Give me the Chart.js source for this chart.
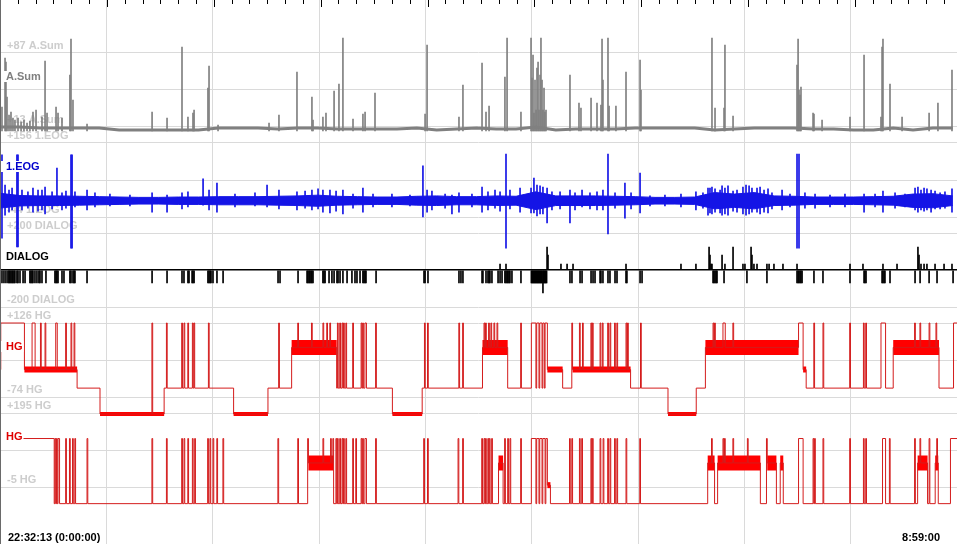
<!DOCTYPE html>
<html>
<head>
<meta charset="utf-8">
<title>PSG overview</title>
<script src="https://cdn.jsdelivr.net/npm/chart.js@4.4.0/dist/chart.umd.min.js"></script>
<style>
  html, body { margin: 0; padding: 0; background: #fff; }
  #psg { display: block; }
</style>
</head>
<body>
<canvas id="psg" width="957" height="544"></canvas>
<script>
// ---- data (time in minutes from 22:32:13) ----
const totalMin = 626.78;
const epochMin = 0.5;
const majorStepMin = 70;
const timeLabels = ['22:32:13 (0:00:00)', '8:59:00'];

// hypnogram stages: 0 W, 1 REM, 2 N1, 3 N2, 4 N3
const hgLevels = [126, 60, 0, -50, -120];

const asumGrid = [13, 50, 87];
const eogGrid = [-44, 56, 156];
const dialogGrid = [-200, 0, 200];
const hg1Grid = [-74, 26, 126];
const hg2Grid = [-5, 95, 195];

const sampleT = [0, 13, 26, 39, 52, 65, 78, 91, 104, 117, 130, 143, 156, 169, 182, 195, 208, 221, 234, 247,
  260, 273, 286, 299, 312, 325, 338, 351, 364, 377, 390, 403, 416, 429, 442, 455, 468, 481, 494, 507,
  520, 533, 546, 559, 572, 585, 598, 611, 624];
const asumBase = [13, 13, 12, 12, 12, 12, 10, 10, 10, 10, 10, 12, 12, 12, 11, 12, 12, 11, 11, 11,
  11, 12, 10, 11, 12, 11, 11, 13, 10, 11, 11, 11, 12, 12, 12, 12, 10, 11, 12, 12,
  12, 11, 11, 10, 10, 12, 10, 12, 12];
const eogEnv = [20, 14, 13, 13, 12, 11, 10, 9, 9, 10, 10, 11, 11, 11, 12, 13, 15, 12, 11, 10,
  10, 12, 13, 11, 11, 13, 12, 24, 13, 13, 13, 12, 11, 9, 9, 10, 22, 18, 22, 13,
  12, 10, 10, 10, 11, 12, 18, 19, 13];

// [time, peak]
const asumSpikes = [[1.3,33],[3.3,82],[3.9,78],[4.6,43],[5.9,25],[7.2,28],[8.5,22],[9.8,20],[11.8,22],[13.8,18],
  [15.7,20],[17.7,17],[19.6,19],[21.6,28],[23.6,30],[27.5,23],[29.5,79],[30.8,27],[36.7,33],[38.0,27],
  [40.6,22],[45.8,65],[46.5,101],[47.8,40],[57.0,16],[99.6,28],[109.4,22],[119.2,93],[123.1,23],[126.4,27],
  [127.1,30],[136.2,52],[136.9,74],[142.8,15],[176.2,17],[182.7,25],[194.5,68],[204.3,43],[205.0,20],[211.5,23],
  [213.5,27],[218.8,49],[222.0,56],[224.6,102],[231.2,21],[237.7,26],[239.1,28],[245.6,47],[278.4,26],[279.7,95],
  [300.6,23],[303.2,55],[315.7,77],[318.3,28],[320.3,34],[330.7,63],[332.1,102],[341.2,28],[347.8,102],[348.4,62],
  [349.1,85],[349.7,27],[350.4,60],[351.1,30],[351.7,72],[352.4,78],[353.0,30],[353.7,65],[354.3,102],[355.0,60],
  [355.6,30],[356.3,52],[356.9,28],[357.6,30],[373.3,65],[379.2,37],[380.5,32],[387.1,42],[391.0,37],[393.6,35],
  [394.3,101],[394.9,60],[398.2,102],[398.9,34],[403.4,34],[410.0,68],[419.2,80],[419.8,50],[466.3,102],[468.3,32],
  [474.2,32],[474.8,95],[480.1,24],[522.0,75],[522.7,101],[523.3,50],[524.0,45],[524.6,53],[532.5,27],[533.1,26],
  [538.4,20],[556.7,23],[565.9,85],[577.0,23],[577.7,93],[578.3,101],[582.9,56],[590.8,23],[608.5,27],[614.3,37],
  [623.5,70]];

// [time, high, low]
const eogSpikes = [[1.3,124,-101],[3.3,42,-39],[5.9,29,-31],[7.9,34,-25],[11.1,124,-125],[11.8,124,-125],[14.4,29,-25],
  [18.3,24,-20],[21.6,34,-31],[24.9,29,-28],[27.5,29,-25],[29.5,37,-36],[34.1,24,-22],[37.3,88,-12],[40.6,21,-25],
  [43.2,26,-20],[46.5,124,-128],[47.2,124,-128],[49.1,24,-17],[57.0,29,-25],[62.2,21,-17],[72.0,18,-14],[85.1,15,-14],
  [99.6,21,-31],[109.4,15,-31],[119.2,21,-22],[123.1,24,-17],[133.0,59,-12],[136.9,29,-25],[142.1,48,-31],[153.9,18,-17],
  [167.0,21,-14],[174.9,42,-17],[182.7,29,-22],[194.5,24,-25],[199.8,26,-20],[204.3,29,-25],[208.3,32,-22],[211.5,29,-31],
  [216.1,29,-33],[220.1,26,-28],[224.6,29,-36],[231.2,18,-20],[237.7,34,-31],[244.3,18,-17],[256.7,18,-17],[268.5,15,-14],
  [277.0,94,-44],[279.7,29,-31],[282.9,26,-25],[291.5,18,-20],[296.0,15,-36],[300.6,21,-31],[309.1,18,-17],[315.7,37,-31],
  [319.6,24,-25],[324.2,29,-20],[327.5,24,-28],[331.4,126,-128],[334.0,29,-22],[340.6,34,-31],[347.8,34,-33],[349.7,61,-33],
  [351.7,42,-41],[353.7,40,-36],[355.6,37,-36],[358.3,34,-60],[361.5,24,-25],[366.8,24,-22],[373.3,29,-60],[376.6,21,-25],
  [381.2,29,-17],[386.4,21,-22],[391.0,24,-25],[394.9,29,-25],[398.2,126,-90],[402.8,21,-20],[409.3,48,-47],[413.3,21,-22],
  [419.2,75,-33],[425.7,13,-14],[435.5,15,-14],[446.0,18,-17],[455.8,24,-25],[460.4,21,-20],[463.7,34,-39],[465.0,34,-33],
  [466.3,37,-36],[468.3,32,-31],[471.6,29,-33],[472.9,40,-39],[474.8,34,-36],[476.8,40,-39],[480.1,26,-28],[482.7,29,-31],
  [486.6,37,-36],[488.6,42,-39],[490.6,40,-36],[492.5,34,-31],[495.8,34,-31],[497.8,37,-36],[500.4,29,-31],[503.0,32,-33],
  [505.6,21,-22],[512.2,29,-25],[517.4,18,-17],[522.0,126,-128],[523.3,126,-128],[527.2,21,-20],[533.8,18,-20],[543.6,15,-17],
  [553.4,18,-17],[565.9,18,-31],[573.1,18,-17],[578.3,26,-31],[586.2,21,-20],[592.7,18,-17],[599.3,34,-25],[601.2,37,-31],
  [603.2,29,-25],[605.2,34,-28],[607.1,32,-25],[609.8,29,-31],[612.4,26,-22],[615.7,21,-22],[618.9,24,-20],[623.5,32,-31]];

const dialogDownDepth = -70;
const dialogDownT = [1.3,2.6,3.9,5.2,5.9,6.5,7.2,7.9,8.5,9.2,9.8,11.1,11.8,13.1,15.1,16.4,19.6,20.3,21.0,21.6,22.9,24.2,
  25.5,26.2,27.5,30.1,36.0,36.7,37.3,38.0,40.6,41.9,45.8,46.5,47.8,48.5,49.1,57.0,99.6,109.4,119.2,120.5,123.1,123.8,
  125.8,126.4,127.1,136.2,136.9,137.6,138.2,139.5,142.1,146.1,182.1,183.4,195.2,201.1,201.7,202.4,203.0,203.7,204.3,205.0,
  211.5,212.2,212.9,215.5,217.4,218.8,220.7,221.4,222.7,224.6,227.3,230.5,232.5,233.8,235.8,237.7,238.4,239.1,239.7,246.3,
  277.7,278.4,280.3,300.6,301.9,303.2,315.7,316.3,318.3,319.6,320.3,320.9,322.2,326.2,327.5,328.8,330.7,331.4,332.1,332.7,
  333.4,334.0,335.3,341.2,348,348.5,349,349.5,350,350.5,351,351.5,352,352.5,353,353.5,354,354.5,355,356,356.5,357,357.5,358,
  373.3,374.6,379.9,381.2,387.1,388.4,389.7,393.0,393.6,394.9,398.2,399.5,402.8,404.1,410.0,410.6,419.2,420.5,467.0,467.6,
  468.3,469.0,469.6,474.2,489.2,502.3,522.0,522.7,523.3,524.0,524.6,525.3,533.1,539.0,556.7,565.9,566.5,567.2,577.7,578.3,
  579.0,579.6,582.9,599.3,602.6,608.5,613.7,624.2];
// [time, value]
const dialogPeaks = [[327.5,32],[331.4,32],[355.6,-124],[358.3,124],[358.9,81],[367.4,32],[371.4,32],[375.3,32],[410.0,32],
  [446.0,32],[455.8,32],[464.4,124],[465.0,81],[465.7,32],[466.3,32],[472.9,81],[474.8,32],[480.1,124],[486.6,32],[487.9,32],
  [491.9,124],[492.5,81],[493.8,32],[495.8,32],[502.3,32],[503.7,32],[506.9,32],[512.8,32],[522.0,32],[556.7,32],[565.2,32],
  [578.3,32],[587.5,32],[601.2,124],[601.9,81],[603.2,32],[605.2,32],[607.1,32],[612.4,32],[618.3,32],[623.5,32]];

const hg1RunT = [0,0.5,15.7,50.4,65.5,107.4,152.6,175.5,190.6,220.1,256.7,276.4,315.7,332.1,347.8,358.3,368.1,374.6,
  412.6,437.5,455.8,461.7,522.7,525.9,527.9,577.0,579.6,584.9,615.0,624.2];
const hg1RunS = [2,0,2,3,4,3,4,3,1,3,4,3,1,3,0,2,3,2,3,4,3,1,0,2,3,0,3,1,3,0];
const hg1Flips = [21.0,21.6,22.3,22.9,26.9,29.5,36.7,37.3,43.2,46.5,48.5,99.6,109.4,119.2,120.5,123.1,126.4,127.1,136.9,
  182.7,195.2,204.3,211.5,214.2,216.1,221.4,222.7,224.0,225.3,226.6,231.2,236.5,237.7,239.1,239.7,246.3,278.4,280.3,
  300.6,303.2,317.0,318.3,320.3,321.6,323.6,325.5,341.2,351.1,353.0,355.0,356.9,374.6,379.9,381.9,387.1,388.4,393.0,
  394.9,398.2,399.5,402.8,404.1,410.0,411.3,419.8,467.0,468.3,473.6,474.2,474.9,480.1,533.2,539.0,556.7,565.9,567.2,
  599.3,602.6,608.5,613.1];

const hg2RunT = [0,35.4,201.7,218.1,326.2,329.5,347.8,358.3,360.3,463.1,467.7,469.6,497.8,502.4,508.3,510.9,512.9,
  522.7,526.0,577.7,579.7,600.6,607.2,612.4,614.4,622.2];
const hg2RunS = [0,3,1,3,1,3,0,2,3,1,3,1,3,1,3,1,3,0,3,0,3,1,3,1,3,0];
const hg2Flips = [36.0,37.3,38.0,38.6,43.2,45.9,47.8,49.1,57.0,99.6,109.4,119.2,120.5,123.1,126.4,127.7,136.2,137.6,
  139.5,142.1,146.1,182.1,195.2,201.7,211.5,216.8,218.1,220.1,221.4,222.7,224.0,225.3,226.6,231.2,233.2,236.5,237.8,
  239.1,239.7,246.3,277.7,280.3,300.0,303.3,315.7,317.0,318.3,319.6,320.9,322.3,330.8,332.7,334.0,341.3,351.1,353.0,
  355.0,357.0,373.4,374.7,379.9,381.2,387.1,388.4,393.0,395.0,398.2,399.6,402.8,404.1,410.0,419.2,466.4,473.6,474.9,
  480.1,489.9,502.4,532.5,533.8,539.1,556.8,565.9,567.2,582.9,599.3,602.6,608.5,613.7];

// ---- layout / style ----
const H = 544;
const gridColor = '#dadada';
const grayCol = '#808080';
const blueCol = '#1414e6';
const hgLine = '#d41c1c';
const hgBar = '#ff0000';
const font = 'bold 11px "Liberation Sans", Arial, sans-serif';

const tracks = [
  { axis: 'yA', name: 'A.Sum', unit: 'A.Sum', color: grayCol, grid: asumGrid, px: [53, 127] },
  { axis: 'yE', name: '1.EOG', unit: '1.EOG', color: '#0000cc', grid: eogGrid, px: [143, 217] },
  { axis: 'yD', name: 'DIALOG', unit: 'DIALOG', color: '#000', grid: dialogGrid, px: [233, 307] },
  { axis: 'yH1', name: 'HG', unit: 'HG', color: '#e00000', grid: hg1Grid, px: [323, 397] },
  { axis: 'yH2', name: 'HG', unit: 'HG', color: '#e00000', grid: hg2Grid, px: [413, 487] }
];

function trackAxis(tr) {
  const hi = tr.grid[tr.grid.length - 1], lo = tr.grid[0];
  const perPx = (hi - lo) / (tr.px[1] - tr.px[0]);
  return {
    type: 'linear',
    position: 'left',
    min: lo - (H - tr.px[1]) * perPx,
    max: hi + tr.px[0] * perPx,
    beginAtZero: false,
    afterBuildTicks: ax => { ax.ticks = tr.grid.map(v => ({ value: v })); },
    ticks: { display: false },
    grid: {
      drawTicks: false,
      color: c => (tr.axis === 'yD' && c.tick && c.tick.value === 0) ? '#000' : gridColor,
      lineWidth: c => (tr.axis === 'yD' && c.tick && c.tick.value === 0) ? 1.6 : 1
    },
    border: { display: false }
  };
}

// epoch stage arrays from runs
function baseStages(runT, runS) {
  const n = Math.ceil(totalMin / epochMin);
  const st = [];
  let k = 0;
  for (let i = 0; i < n; i++) {
    const t = i * epochMin;
    while (k + 1 < runT.length && runT[k + 1] <= t + 1e-6) k++;
    st.push(runS[k]);
  }
  return st;
}
function withFlips(base, flips) {
  const st = base.slice();
  flips.forEach(t => {
    const i = Math.min(st.length - 1, Math.floor(t / epochMin));
    st[i] = base[i] === 0 ? 3 : 0;
  });
  return st;
}
function stepPoints(st) {
  const pts = [];
  st.forEach((s, i) => {
    if (i === 0 || s !== st[i - 1]) pts.push({ x: i * epochMin, y: hgLevels[s] });
  });
  pts.push({ x: totalMin, y: hgLevels[st[st.length - 1]] });
  return pts;
}
function stageBars(base, stage) {
  const pts = [];
  let i = 0;
  while (i < base.length) {
    if (base[i] !== stage) { i++; continue; }
    let j = i;
    while (j < base.length && base[j] === stage) j++;
    const end = Math.min(j * epochMin, totalMin);
    pts.push({ x: i * epochMin, y: hgLevels[stage] }, { x: end, y: hgLevels[stage] }, { x: end, y: null });
    i = j;
  }
  return pts;
}

function hgDatasets(runT, runS, flips, axis) {
  const base = baseStages(runT, runS);
  const st = withFlips(base, flips);
  const bar = (stage, w) => ({
    type: 'line', yAxisID: axis, data: stageBars(base, stage),
    borderColor: hgBar, borderWidth: w, borderCapStyle: 'butt',
    pointRadius: 0, tension: 0, spanGaps: false, order: 2
  });
  return [
    { type: 'line', yAxisID: axis, data: stepPoints(st), stepped: true,
      borderColor: hgLine, borderWidth: 1, pointRadius: 0, order: 1 },
    bar(1, 15), bar(2, 6), bar(4, 4)
  ];
}

const lineBase = { type: 'line', pointRadius: 0, tension: 0 };
const barBase = { type: 'bar', grouped: false, barThickness: 1 };

const datasets = [
  Object.assign({}, lineBase, { yAxisID: 'yA', order: 5, borderColor: grayCol, borderWidth: 3,
    data: sampleT.map((t, i) => ({ x: t, y: asumBase[i] })) }),
  Object.assign({}, barBase, { yAxisID: 'yA', order: 5, backgroundColor: grayCol,
    data: asumSpikes.map(([t, v]) => ({ x: t, y: [9, v] })) }),
  Object.assign({}, lineBase, { yAxisID: 'yE', order: 4, borderColor: blueCol, borderWidth: 1,
    data: sampleT.map((t, i) => ({ x: t, y: eogEnv[i] })), fill: false }),
  Object.assign({}, lineBase, { yAxisID: 'yE', order: 4, borderColor: blueCol, borderWidth: 1, backgroundColor: blueCol,
    data: sampleT.map((t, i) => ({ x: t, y: -eogEnv[i] })), fill: '-1' }),
  Object.assign({}, barBase, { yAxisID: 'yE', order: 4, backgroundColor: blueCol,
    data: eogSpikes.map(([t, hi, lo]) => ({ x: t, y: [lo, hi] })) }),
  Object.assign({}, barBase, { yAxisID: 'yD', order: 3, backgroundColor: '#000',
    data: dialogDownT.map(t => ({ x: t, y: dialogDownDepth })) }),
  Object.assign({}, barBase, { yAxisID: 'yD', order: 3, backgroundColor: '#000',
    data: dialogPeaks.map(([t, v]) => ({ x: t, y: v })) })
].concat(hgDatasets(hg1RunT, hg1RunS, hg1Flips, 'yH1'), hgDatasets(hg2RunT, hg2RunS, hg2Flips, 'yH2'));

const fmt = v => (v > 0 ? '+' : '') + v;

const overlay = {
  id: 'overlay',
  beforeDatasetsDraw(chart) {
    const c = chart.ctx;
    c.save();
    c.font = font;
    c.fillStyle = '#cdcdcd';
    tracks.forEach(tr => {
      const sc = chart.scales[tr.axis];
      const hi = tr.grid[tr.grid.length - 1], lo = tr.grid[0];
      c.fillText(fmt(hi) + ' ' + tr.unit, 7, sc.getPixelForValue(hi) - 4);
      c.fillText(fmt(lo) + ' ' + tr.unit, 7, sc.getPixelForValue(lo) - 4);
    });
    c.restore();
  },
  afterDatasetsDraw(chart) {
    const c = chart.ctx;
    const xs = chart.scales.x;
    c.save();
    c.font = font;
    tracks.forEach(tr => {
      const sc = chart.scales[tr.axis];
      const y = sc.getPixelForValue(tr.grid[tr.grid.length - 1]) + 27;
      const w = c.measureText(tr.name).width;
      c.fillStyle = '#fff';
      c.fillRect(1, y - 9, w + 6, 11);
      c.fillStyle = tr.color;
      c.fillText(tr.name, 6, y);
    });
    // top tick marks
    c.strokeStyle = '#000';
    c.lineWidth = 1;
    const minor = majorStepMin / 6;
    for (let k = 1; k * minor <= totalMin; k++) {
      const x = Math.round(xs.getPixelForValue(k * minor)) + 0.5;
      c.beginPath();
      c.moveTo(x, 0);
      c.lineTo(x, k % 6 === 0 ? 7 : 4);
      c.stroke();
    }
    // left border
    c.strokeStyle = '#6a6a6a';
    c.beginPath();
    c.moveTo(0.5, 0);
    c.lineTo(0.5, H);
    c.stroke();
    // time labels
    c.fillStyle = '#000';
    c.textAlign = 'left';
    c.fillText(timeLabels[0], 8, 541);
    c.textAlign = 'right';
    c.fillText(timeLabels[1], 940, 541);
    c.restore();
  }
};

const scales = {
  x: {
    type: 'linear', min: 0, max: totalMin, offset: false,
    ticks: { display: false, stepSize: majorStepMin },
    grid: { color: gridColor, drawTicks: false, offset: false },
    border: { display: false }
  }
};
tracks.forEach(tr => { scales[tr.axis] = trackAxis(tr); });

new Chart(document.getElementById('psg').getContext('2d'), {
  type: 'line',
  data: { datasets: datasets },
  options: {
    responsive: false,
    animation: false,
    events: [],
    layout: { padding: 0 },
    plugins: { legend: { display: false }, tooltip: { enabled: false } },
    scales: scales
  },
  plugins: [overlay]
});
</script>
</body>
</html>
